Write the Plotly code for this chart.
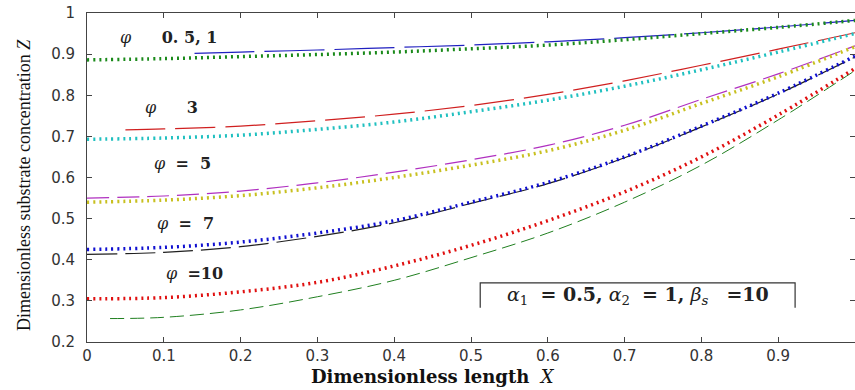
import plotly.graph_objects as go

X = [0.0, 0.1, 0.2, 0.3, 0.4, 0.5, 0.6, 0.7, 0.8, 0.9, 1.0]

# phi = 0.5, 1
z1_dot = [0.886, 0.889, 0.894, 0.899, 0.905, 0.913, 0.922, 0.935, 0.950, 0.965, 0.982]
x1_dash = [0.14, 0.2, 0.3, 0.4, 0.5, 0.6, 0.7, 0.8, 0.9, 1.0]
z1_dash = [0.902, 0.905, 0.910, 0.916, 0.922, 0.930, 0.940, 0.952, 0.966, 0.982]

# phi = 3
z3_dot = [0.693, 0.696, 0.703, 0.717, 0.735, 0.760, 0.788, 0.822, 0.862, 0.905, 0.950]
x3_dash = [0.05, 0.1, 0.2, 0.3, 0.4, 0.5, 0.6, 0.7, 0.8, 0.9, 1.0]
z3_dash = [0.716, 0.718, 0.725, 0.738, 0.754, 0.775, 0.802, 0.835, 0.873, 0.912, 0.952]

# phi = 5
z5_dot = [0.540, 0.545, 0.556, 0.575, 0.600, 0.630, 0.665, 0.715, 0.780, 0.845, 0.918]
z5_dash = [0.550, 0.555, 0.567, 0.587, 0.613, 0.643, 0.678, 0.727, 0.790, 0.852, 0.920]

# phi = 7
z7_dot = [0.425, 0.430, 0.443, 0.465, 0.495, 0.540, 0.588, 0.650, 0.725, 0.805, 0.895]
z7_dash = [0.413, 0.418, 0.432, 0.457, 0.490, 0.537, 0.585, 0.648, 0.723, 0.803, 0.893]

# phi = 10
z10_dot = [0.305, 0.308, 0.322, 0.345, 0.385, 0.435, 0.495, 0.565, 0.650, 0.752, 0.865]
x10_dash = [0.03, 0.1, 0.2, 0.3, 0.4, 0.5, 0.6, 0.7, 0.8, 0.9, 1.0]
z10_dash = [0.257, 0.260, 0.278, 0.310, 0.350, 0.405, 0.465, 0.540, 0.630, 0.740, 0.860]

x_ticks = [0, 0.1, 0.2, 0.3, 0.4, 0.5, 0.6, 0.7, 0.8, 0.9]
x_tick_labels = ["0", "0.1", "0.2", "0.3", "0.4", "0.5", "0.6", "0.7", "0.8", "0.9"]
y_ticks = [0.2, 0.3, 0.4, 0.5, 0.6, 0.7, 0.8, 0.9, 1.0]
y_tick_labels = ["0.2", "0.3", "0.4", "0.5", "0.6", "0.7", "0.8", "0.9", "1"]

fig = go.Figure()

def dashed(x, y, color, dash, width=1.2):
    fig.add_trace(go.Scatter(x=x, y=y, mode="lines",
                             line=dict(color=color, width=width, dash=dash, shape="spline"),
                             showlegend=False, hoverinfo="skip"))

def dotted(x, y, color):
    fig.add_trace(go.Scatter(x=x, y=y, mode="lines",
                             line=dict(color=color, width=3.5, dash="2px,4px", shape="spline"),
                             showlegend=False, hoverinfo="skip"))

dashed(x1_dash, z1_dash, "#2020c0", "60px,10px")
dashed(x3_dash, z3_dash, "#d02020", "40px,10px")
dashed(X, z5_dash, "#b030c0", "22px,8px")
dashed(X, z7_dash, "#202020", "30px,8px")
dashed(x10_dash, z10_dash, "#208020", "14px,6px", 1.0)

dotted(X, z1_dot, "#1a8a1a")
dotted(X, z3_dot, "#20c0c0")
dotted(X, z5_dot, "#c8c020")
dotted(X, z7_dot, "#1010d0")
dotted(X, z10_dot, "#e01010")

lab_font = dict(family="DejaVu Serif", size=16, color="#222")
labels = [
    (0.040, 0.941, "<i>φ</i>      <b>0. 5, 1</b>"),
    (0.073, 0.771, "<i>φ</i>      <b>3</b>"),
    (0.085, 0.635, "<i>φ</i>  <b>=  5</b>"),
    (0.089, 0.489, "<i>φ</i>  <b>=  7</b>"),
    (0.100, 0.367, "<i>φ</i>  <b>=10</b>"),
]
for lx, ly, t in labels:
    fig.add_annotation(x=lx, y=ly, xref="x", yref="y", text=t, showarrow=False,
                       xanchor="left", yanchor="middle", font=lab_font)

# parameter box
fig.add_annotation(x=0.717, y=0.140, xref="paper", yref="paper",
                   text="<i>α</i><sub>1</sub>  <b>= 0.5,</b> <i>α</i><sub>2</sub>  <b>= 1,</b> <i>β</i><sub><i>s</i></sub>   <b>=10</b>",
                   showarrow=False, xanchor="center", yanchor="middle",
                   font=dict(family="DejaVu Serif", size=19, color="#222"))
fig.add_shape(type="path", xref="paper", yref="paper",
              path="M 0.512 0.104 L 0.512 0.180 L 0.922 0.180 L 0.922 0.104",
              line=dict(color="#333", width=1.2))

# x axis title (as annotation to match position)
fig.add_annotation(x=0.45, y=-0.067, xref="paper", yref="paper",
                   text="<b>Dimensionless length</b>  <i>X</i>", showarrow=False,
                   xanchor="center", yanchor="top",
                   font=dict(family="DejaVu Serif", size=18, color="#111"))

# y axis title (as annotation to match position)
fig.add_annotation(x=-0.082, y=0.477, xref="paper", yref="paper",
                   text="Dimensionless substrate concentration <i>Z</i>", showarrow=False,
                   textangle=-90, xanchor="center", yanchor="middle",
                   font=dict(family="Liberation Serif", size=18, color="#111"))

axis_common = dict(showgrid=False, zeroline=False, showline=True, linecolor="#444",
                   linewidth=1, mirror="ticks", ticks="inside", ticklen=5,
                   tickcolor="#444",
                   tickfont=dict(family="DejaVu Sans", size=15, color="#333"))

fig.update_xaxes(range=[0, 1], tickvals=x_ticks, ticktext=x_tick_labels, **axis_common)
fig.update_yaxes(range=[0.2, 1], tickvals=y_ticks, ticktext=y_tick_labels,
                 ticklabelstandoff=8, **axis_common)

fig.update_layout(width=855, height=390, margin=dict(l=87, r=0, t=13, b=48),
                  paper_bgcolor="white", plot_bgcolor="white", showlegend=False)

fig.write_html("out.html")
